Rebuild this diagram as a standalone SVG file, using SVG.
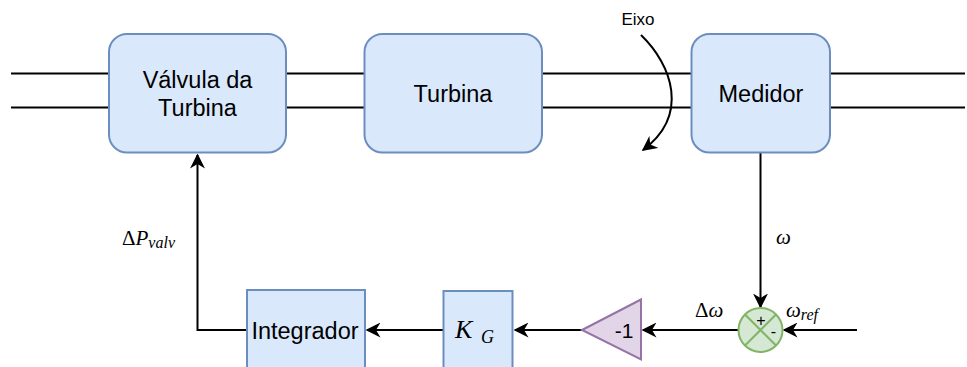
<svg xmlns="http://www.w3.org/2000/svg" width="967" height="367" viewBox="0 0 967 367">
<defs>
<style>
.blk{fill:#dae8fc;stroke:#6c8ebf;stroke-width:2}
.sum{fill:#d5e8d4;stroke:#82b366;stroke-width:2}
.gain{fill:#e1d5e7;stroke:#9673a6;stroke-width:2}
.ln{fill:none;stroke:#000;stroke-width:2}
.t{font-family:"Liberation Sans",Arial,sans-serif;font-size:23.5px;fill:#000;text-anchor:middle}
.m{font-family:"Liberation Serif","Times New Roman",serif;font-size:21px;fill:#000}
.i{font-style:italic}
</style>
<marker id="ar" viewBox="0 0 10 10" refX="9" refY="5" markerWidth="15" markerHeight="15" markerUnits="userSpaceOnUse" orient="auto">
<path d="M0,0 L10,5 L0,10 L3,5 Z" fill="#000"/>
</marker>
</defs>
<g id="connectors">
<path class="ln" d="M11,73.5 H109 M286,73.5 H364.5 M542,73.5 H691.5 M830,73.5 H965"/>
<path class="ln" d="M11,107.5 H109 M286,107.5 H364.5 M542,107.5 H691.5 M830,107.5 H965"/>
<path class="ln" d="M641,35 C672,65 690,115 643,150" marker-end="url(#ar)"/>
<path class="ln" d="M760.5,153 V307" marker-end="url(#ar)"/>
<path class="ln" d="M857,330 H784" marker-end="url(#ar)"/>
<path class="ln" d="M738,330 H643" marker-end="url(#ar)"/>
<path class="ln" d="M582,330 H515" marker-end="url(#ar)"/>
<path class="ln" d="M443,330 H367" marker-end="url(#ar)"/>
<path class="ln" d="M247,330 H197.5 V155" marker-end="url(#ar)"/>
</g>
<g id="valvula">
<rect class="blk" x="109" y="34" width="177" height="118.5" rx="18"/>
<text class="t" x="197.5" y="88">Válvula da</text>
<text class="t" x="197.5" y="116">Turbina</text>
</g>
<g id="turbina">
<rect class="blk" x="364.5" y="34" width="177.5" height="118.5" rx="18"/>
<text class="t" x="453" y="102">Turbina</text>
</g>
<g id="medidor">
<rect class="blk" x="691.5" y="34" width="138.5" height="118.5" rx="18"/>
<text class="t" x="761" y="102">Medidor</text>
</g>
<g id="eixo">
<text class="t" x="638" y="25" style="font-size:17px">Eixo</text>
</g>
<g id="integrador">
<rect class="blk" x="247" y="290" width="118" height="82"/>
<text class="t" x="305" y="338.5">Integrador</text>
</g>
<g id="kg">
<rect class="blk" x="443.5" y="291" width="69" height="82"/>
<text class="m" x="455" y="338" style="font-size:26px"><tspan class="i">K</tspan><tspan class="i" x="481" y="343" style="font-size:18px">G</tspan></text>
</g>
<g id="ganho">
<path class="gain" d="M582,330 L641,299.5 L641,359.5 Z"/>
<text class="t" x="624" y="338" style="font-size:21px">-1</text>
</g>
<g id="somador">
<circle class="sum" cx="760.5" cy="330" r="22"/>
<path d="M745,314.5 L776,345.5 M776,314.5 L745,345.5" stroke="#82b366" stroke-width="2"/>
<text class="t" x="761" y="326" style="font-size:16px">+</text>
<text class="t" x="773.5" y="337" style="font-size:16px">-</text>
</g>
<g id="labels">
<text class="m" x="776" y="244"><tspan class="i">ω</tspan></text>
<text class="m" x="695" y="317">Δ<tspan class="i">ω</tspan></text>
<text class="m" x="786" y="317"><tspan class="i">ω</tspan><tspan class="i" dy="3" style="font-size:16px">ref</tspan></text>
<text class="m" x="122" y="245">Δ<tspan class="i">P</tspan><tspan class="i" dy="3" style="font-size:16px">valv</tspan></text>
</g>
</svg>
